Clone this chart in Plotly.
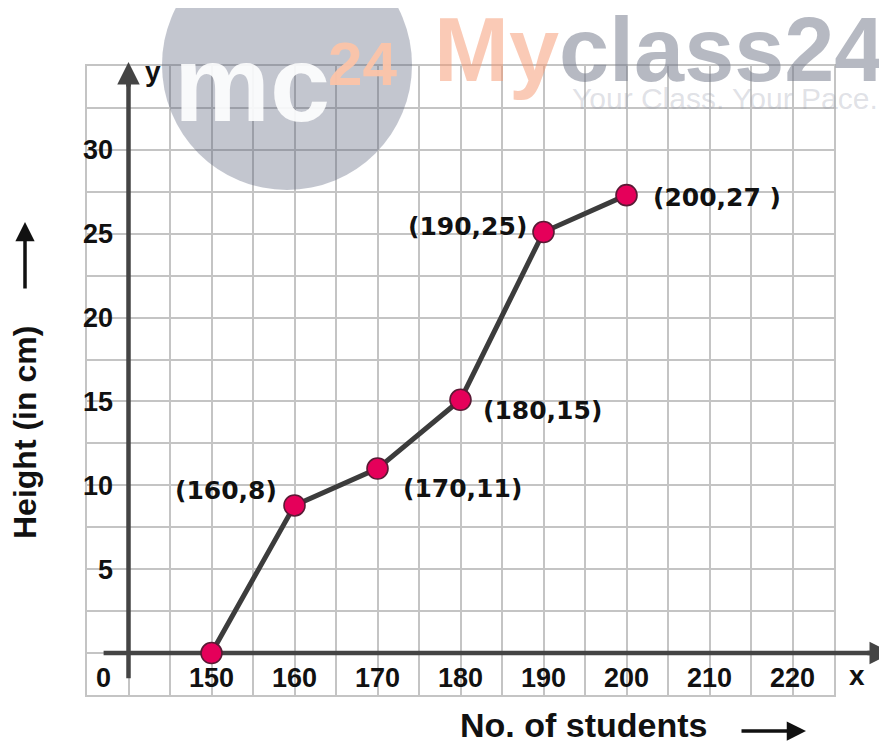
import plotly.graph_objects as go

# ---------------- data ----------------
students = [150, 160, 170, 180, 190, 200]
height_cm = [0, 8.8, 11.0, 15.1, 25.1, 27.3]
point_labels = ["", "(160,8)", "(170,11)", "(180,15)", "(190,25)", "(200,27 )"]

x_tick_vals = [150, 160, 170, 180, 190, 200, 210, 220]
x_tick_text = ["150", "160", "170", "180", "190", "200", "210", "220"]
y_tick_vals = [5, 10, 15, 20, 25, 30]
y_tick_text = ["5", "10", "15", "20", "25", "30"]
origin_text = "0"

x_title = "No. of students"
y_title = "Height (in cm)"

# ---------------- style / geometry ----------------
W, H = 887, 742
OFF = 8                 # page body margin of the viewer
GRID_L, GRID_R, GRID_T, GRID_B = 87 - OFF, 834 - OFF, 66 - OFF, 695 - OFF
X0, X1 = 135, 225
Y0, Y1 = -2.5, 35
YAXIS_AT = 140          # x value where the drawn y-axis sits
ORIGIN_X = 137          # where the "0" origin label sits

sx = (GRID_R - GRID_L) / (X1 - X0)
sy = (GRID_B - GRID_T) / (Y1 - Y0)
x3_range = [X0 - GRID_L / sx, X0 + (W - GRID_L) / sx]
y3_range = [Y0 - (H - GRID_B) / sy, Y1 + GRID_T / sy]


def px(x):
    """reference-image pixel x -> paper x"""
    return (x - OFF) / W


def py(y):
    """reference-image pixel y -> paper y"""
    return (H - (y - OFF)) / H


GRID_COLOR = "#c4c4c4"
AXIS_COLOR = "#444444"
LINE_COLOR = "#3c3c3c"
MARKER_COLOR = "#e5005a"
FONT = "Liberation Sans"
LABEL_FONT = "DejaVu Sans"

# (xanchor, xshift, yshift) for each point label
label_style = [None, ("right", -16, 15), ("left", 23, -20), ("left", 20, -11),
               ("right", -15, 6), ("left", 24, -2)]

fig = go.Figure()

# invisible trace so that the grid subplot (x, y) is built
fig.add_trace(go.Scatter(x=students, y=height_cm, mode="markers",
                         marker=dict(opacity=0), hoverinfo="skip", showlegend=False))

# axis lines (styling) drawn in the data subplot, under the markers
fig.add_trace(go.Scatter(x=[ORIGIN_X, X1 + 5], y=[0, 0], mode="lines",
                         line=dict(color=AXIS_COLOR, width=4.5),
                         xaxis="x3", yaxis="y3", hoverinfo="skip", showlegend=False))
fig.add_trace(go.Scatter(x=[YAXIS_AT, YAXIS_AT], y=[-1.5, Y1 - 1], mode="lines",
                         line=dict(color=AXIS_COLOR, width=4.5),
                         xaxis="x3", yaxis="y3", hoverinfo="skip", showlegend=False))

# data
fig.add_trace(go.Scatter(x=students, y=height_cm, mode="lines+markers",
                         line=dict(color=LINE_COLOR, width=5),
                         marker=dict(size=21, color=MARKER_COLOR,
                                     line=dict(color="#5a1a35", width=1.6)),
                         cliponaxis=False, xaxis="x3", yaxis="y3",
                         hoverinfo="skip", showlegend=False))

annotations = []
for xv, yv, txt, st in zip(students, height_cm, point_labels, label_style):
    if not txt:
        continue
    anchor, xs, ys = st
    annotations.append(dict(x=xv, y=yv, xref="x3", yref="y3", text=txt, showarrow=False,
                            xanchor=anchor, yanchor="middle", xshift=xs, yshift=ys,
                            font=dict(family=LABEL_FONT, size=25, color="#111111",
                                      weight="bold")))


def txt_ann(x, y, text, size, color="#111", weight="bold", angle=0, family=FONT):
    return dict(x=px(x), y=py(y), xref="paper", yref="paper", text=text,
                showarrow=False, xanchor="center", yanchor="middle", textangle=angle,
                font=dict(family=family, size=size, color=color, weight=weight))


# arrow heads on axes
annotations.append(dict(x=YAXIS_AT, y=Y0 + (GRID_B - (62 - OFF)) / sy, xref="x3", yref="y3",
                        ax=0, ay=26, axref="pixel", ayref="pixel", text="",
                        showarrow=True, arrowhead=2, arrowwidth=4.5, arrowsize=1,
                        arrowcolor=AXIS_COLOR))
annotations.append(dict(x=px(892), y=0, xref="paper", yref="y3",
                        ax=-26, ay=0, text="", showarrow=True, arrowhead=2,
                        arrowwidth=4.5, arrowsize=1, arrowcolor=AXIS_COLOR))

# axis letters
annotations.append(txt_ann(153, 72, "y", 28))
annotations.append(txt_ann(857, 675, "x", 28))

# axis titles with arrows
annotations.append(txt_ann(583, 725, x_title, 34))
annotations.append(dict(x=px(806), y=py(731), xref="paper", yref="paper", text="",
                        ax=-66, ay=0, showarrow=True, arrowhead=2, arrowwidth=3.5,
                        arrowsize=1.1, arrowcolor="#111"))
annotations.append(txt_ann(25, 433, y_title, 32, angle=-90))
annotations.append(dict(x=px(25), y=py(222), xref="paper", yref="paper", text="",
                        ax=0, ay=68, showarrow=True, arrowhead=2, arrowwidth=3.5,
                        arrowsize=1.1, arrowcolor="#111"))

# watermark
annotations.append(txt_ann(252, 83, "mc", 108, color="rgba(255,255,255,0.9)"))
annotations.append(txt_ann(362, 63, "24", 62, color="rgba(252,196,168,0.95)"))
annotations.append(txt_ann(659, 50,
                           "<span style='color:rgba(245,150,110,0.5)'>My</span>"
                           "<span style='color:rgba(110,116,134,0.5)'>class24</span>",
                           90, color="rgb(110,116,134)"))
annotations.append(txt_ann(725, 99, "Your Class. Your Pace.", 30,
                           color="rgba(150,155,170,0.3)", weight="normal"))

shapes = [dict(type="circle", xref="paper", yref="paper",
               x0=px(162), x1=px(412), y0=py(190), y1=py(-60),
               fillcolor="rgba(78,87,114,0.34)", line=dict(width=0), layer="above")]

fig.update_layout(
    width=W, height=H, autosize=False,
    margin=dict(l=0, r=0, t=0, b=0),
    paper_bgcolor="white", plot_bgcolor="rgba(0,0,0,0)",
    showlegend=False,
    xaxis=dict(domain=[GRID_L / W, GRID_R / W], range=[X0, X1], tick0=X0, dtick=5,
               showgrid=True, gridcolor=GRID_COLOR, gridwidth=1.6,
               showline=True, mirror=True, linecolor=GRID_COLOR, linewidth=1.6,
               zeroline=False, showticklabels=False, ticks=""),
    yaxis=dict(domain=[(H - GRID_B) / H, (H - GRID_T) / H], range=[Y0, Y1], tick0=Y0,
               dtick=2.5, showgrid=True, gridcolor=GRID_COLOR, gridwidth=1.6,
               showline=True, mirror=True, linecolor=GRID_COLOR, linewidth=1.6,
               zeroline=False, showticklabels=False, ticks=""),
    xaxis3=dict(domain=[0, 1], range=x3_range, anchor="free", position=py(659),
                showgrid=False, zeroline=False, showline=False, ticks="",
                tickmode="array", tickvals=[ORIGIN_X] + x_tick_vals,
                ticktext=[origin_text] + x_tick_text,
                tickfont=dict(family=FONT, size=27, color="#111", weight="bold")),
    yaxis3=dict(domain=[0, 1], range=y3_range, anchor="free", position=px(113),
                showgrid=False, zeroline=False, showline=False, ticks="",
                tickmode="array", tickvals=y_tick_vals, ticktext=y_tick_text,
                tickfont=dict(family=FONT, size=27, color="#111", weight="bold")),
    annotations=annotations,
    shapes=shapes,
)

fig.write_html("out.html")
